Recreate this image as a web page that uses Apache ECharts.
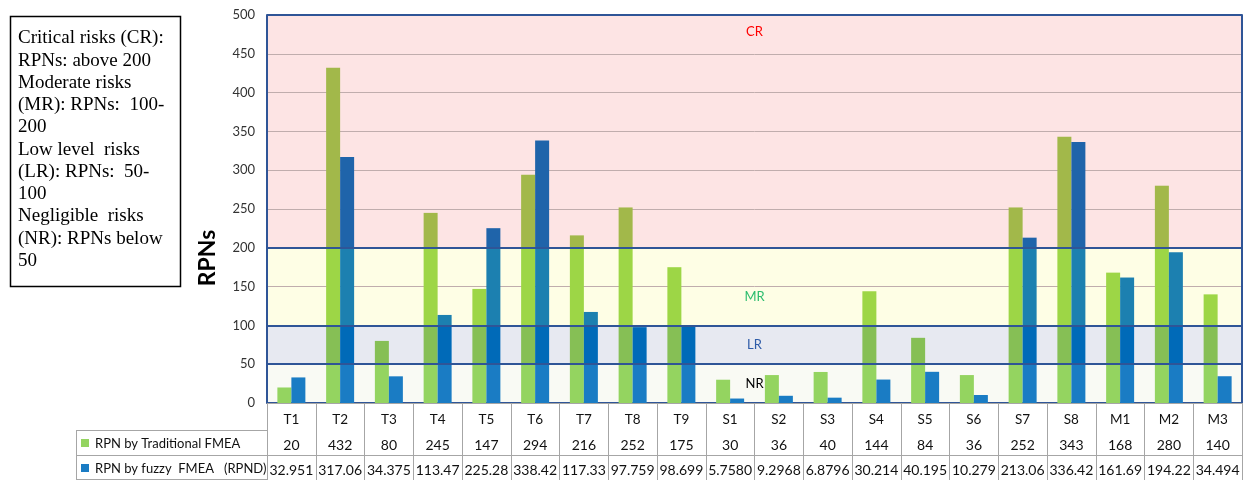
<!DOCTYPE html>
<html><head><meta charset="utf-8">
<script src="https://cdn.jsdelivr.net/npm/echarts@6/dist/echarts.min.js"></script>
<style>html,body{margin:0;padding:0;background:#fff}#c{width:1247px;height:480px}</style>
</head><body><div id="c"></div>
<script>
const categories = ['T1','T2','T3','T4','T5','T6','T7','T8','T9','S1','S2','S3','S4','S5','S6','S7','S8','M1','M2','M3'];
const traditional = [20,432,80,245,147,294,216,252,175,30,36,40,144,84,36,252,343,168,280,140];
const fuzzyLabels = ['32.951','317.06','34.375','113.47','225.28','338.42','117.33','97.759','98.699','5.7580','9.2968','6.8796','30.214','40.195','10.279','213.06','336.42','161.69','194.22','34.494'];
const fuzzy = fuzzyLabels.map(Number);
const yMin = 0, yMax = 500, yStep = 50;
const bands = [
  {name:'NR', from:0, to:50},
  {name:'LR', from:50, to:100},
  {name:'MR', from:100, to:200},
  {name:'CR', from:200, to:500}
];
const legendLines = ['Critical risks (CR):','RPNs: above 200','Moderate risks','(MR): RPNs:  100-','200','Low level  risks','(LR): RPNs:  50-','100','Negligible  risks','(NR): RPNs below','50'];
const seriesNames = ['RPN by Traditional FMEA','RPN by fuzzy  FMEA   (RPND)'];

const bandFill = {NR:'#f9faf4', LR:'#e7e9f1', MR:'#fefee5', CR:'#fde4e4'};
const bandLabelColor = {NR:'#000000', LR:'#2f5ca8', MR:'#2dbd6e', CR:'#ff0000'};
const tradColor = {NR:'#94d460', LR:'#86bf55', MR:'#9dd646', CR:'#a2b84a'};
const fuzzyColor = {NR:'#1a7cc4', LR:'#006ab8', MR:'#1c80b0', CR:'#1f64aa'};
const dark = '#2f5597';
const F = 'Lato, "Open Sans", sans-serif';

const G = {left:267, right:5, top:15, bottom:77};

function seg(v, lo, hi){ return Math.max(0, Math.min(v, hi) - lo); }

const areaColors = [];
for (let t = yMin; t < yMax; t += yStep) {
  const mid = t + yStep/2;
  const b = bands.find(b => mid >= b.from && mid < b.to);
  areaColors.push(bandFill[b.name]);
}

const series = [];
bands.forEach((b, bi) => {
  series.push({type:'bar', stack:'trad', name:seriesNames[0], data: traditional.map(v => seg(v, b.from, b.to)),
    barWidth:14, barGap:'0%', itemStyle:{color: tradColor[b.name]}, silent:true, animation:false});
  series.push({type:'bar', stack:'fuzzy', name:seriesNames[1], data: fuzzy.map(v => seg(v, b.from, b.to)),
    barWidth:14, barGap:'0%', itemStyle:{color: fuzzyColor[b.name]}, silent:true, animation:false});
});
series[0].markLine = {
  silent:true, symbol:['none','none'], animation:false,
  lineStyle:{color:dark, width:2, type:'solid'}, label:{show:false},
  data: [50,100,200,500].map(v => ({yAxis:v}))
};
const labelPos = {
  NR:{position:'inside'}, LR:{position:'inside'},
  MR:{position:'inside', offset:[0,10]}, CR:{position:'insideTop', distance:10}
};
series[0].markArea = {
  silent:true, animation:false, itemStyle:{color:'transparent'},
  data: bands.map(b => [
    {yAxis:b.from, name:b.name, label:Object.assign({show:true, color:bandLabelColor[b.name], fontFamily:F, fontSize:13}, labelPos[b.name])},
    {yAxis:b.to}
  ])
};

const gray = '#a6a6a6';
const chart = echarts.init(document.getElementById('c'));
const H = 480, W = 1247;
const graphic = [
  {type:'rect', shape:{x:10.5, y:16.5, width:170, height:270}, style:{fill:'#fff', stroke:'#000', lineWidth:1.5}},
  ...legendLines.map((t, i) => ({type:'text', x:18, y:38.5 + i*22.25,
    style:{text:t, font:'19px "Liberation Serif", "Times New Roman", serif', fill:'#000', textVerticalAlign:'middle'}})),
  {type:'text', x:208, y:258, rotation:Math.PI/2,
    style:{text:'RPNs', font:'bold 23px Lato, sans-serif', fill:'#000', textAlign:'center', textVerticalAlign:'middle'}},
  {type:'line', shape:{x1:76, y1:430.5, x2:G.left, y2:430.5}, style:{stroke:gray, lineWidth:1}},
  {type:'line', shape:{x1:76, y1:455.5, x2:G.left, y2:455.5}, style:{stroke:gray, lineWidth:1}},
  {type:'line', shape:{x1:76, y1:479.5, x2:G.left, y2:479.5}, style:{stroke:gray, lineWidth:1}},
  {type:'line', shape:{x1:76.5, y1:430, x2:76.5, y2:480}, style:{stroke:gray, lineWidth:1}},
  {type:'rect', shape:{x:81, y:439, width:8, height:8}, style:{fill:tradColor.NR}},
  {type:'rect', shape:{x:81, y:464, width:8, height:8}, style:{fill:fuzzyColor.NR}},
  {type:'text', x:95, y:443.5, style:{text:seriesNames[0], font:'13px Lato, sans-serif', fill:'#111', textVerticalAlign:'middle'}},
  {type:'text', x:95, y:468.5, style:{text:seriesNames[1], font:'13px Lato, sans-serif', fill:'#111', textVerticalAlign:'middle'}},
  {type:'text', x:G.left + (W - G.left - G.right)/2, y:272, style:{text:'Critical Risks (CR)', font:'14px Lato, sans-serif', fill:'#f1f1d9', textAlign:'center', textVerticalAlign:'middle'}}
];

chart.setOption({
  animation:false,
  grid:G,
  xAxis:[
    {type:'category', data:categories, position:'bottom',
     axisLine:{lineStyle:{color:dark, width:2}},
     axisTick:{show:true, length:77, interval:0, lineStyle:{color:gray}},
     axisLabel:{interval:0, margin:10, fontFamily:F, fontSize:13.5, color:'#111'}},
    {type:'category', data:categories, position:'bottom', offset:27,
     axisLine:{lineStyle:{color:gray, width:1}}, axisTick:{show:false},
     axisLabel:{interval:0, margin:8, fontFamily:F, fontSize:14, color:'#111', formatter:(v,i)=>String(traditional[i])}},
    {type:'category', data:categories, position:'bottom', offset:52,
     axisLine:{lineStyle:{color:gray, width:1}}, axisTick:{show:false},
     axisLabel:{interval:0, margin:8, fontFamily:F, fontSize:14, color:'#111', formatter:(v,i)=>fuzzyLabels[i]}}
  ],
  yAxis:[
    {type:'value', min:yMin, max:yMax, interval:yStep,
     axisLine:{show:true, lineStyle:{color:dark, width:2}}, axisTick:{show:false},
     axisLabel:{fontFamily:F, fontSize:13, color:'#333', margin:12},
     splitLine:{show:true, lineStyle:{color:'#c0adad', width:1}},
     splitArea:{show:true, areaStyle:{color:areaColors}}},
    {type:'value', min:yMin, max:yMax, interval:yStep, position:'right',
     axisLine:{show:true, lineStyle:{color:dark, width:2}}, axisTick:{show:false},
     axisLabel:{show:false}, splitLine:{show:false}}
  ],
  series:series,
  graphic:graphic
});
</script>
</body></html>
